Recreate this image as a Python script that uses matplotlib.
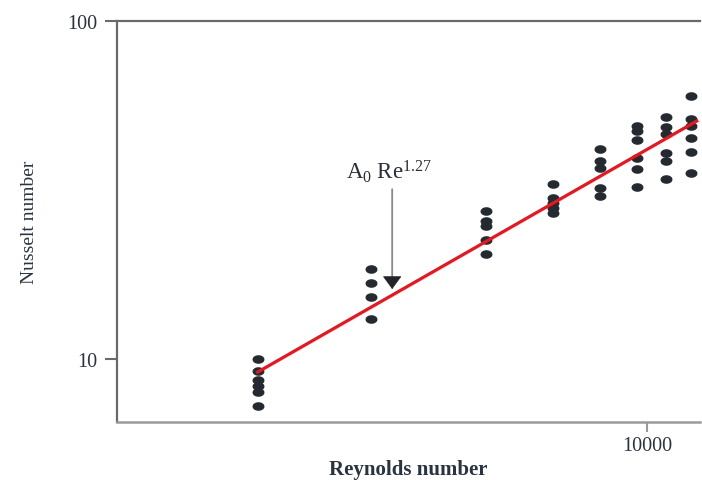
import numpy as np
import matplotlib
matplotlib.use("Agg")
import matplotlib.pyplot as plt
from matplotlib.path import Path

plt.rcParams['font.family'] = ['Liberation Serif', 'DejaVu Serif']
plt.rcParams['mathtext.fontset'] = 'custom'
plt.rcParams['mathtext.rm'] = 'Liberation Serif'
plt.rcParams['mathtext.it'] = 'Liberation Serif'

# Reynolds number of each group of measurements
re_groups = [3030, 4290, 6110, 7500, 8660, 9700, 10600, 11450]
# Nusselt numbers measured in each group
nu_groups = [
    [10.0, 9.21, 8.67, 8.32, 7.99, 7.26],
    [18.46, 16.79, 15.26, 13.13],
    [27.41, 25.6, 24.75, 22.49, 20.45],
    [32.95, 29.95, 28.94, 27.97, 27.04],
    [41.8, 38.5, 36.7, 32.05, 30.4],
    [48.9, 47.3, 44.45, 39.3, 36.5, 32.3],
    [52.0, 48.6, 46.3, 40.7, 38.5, 34.1],
    [60.0, 51.3, 48.9, 45.1, 41.0, 35.5],
]
# fitted correlation Nu = A0 * Re^1.27
exponent = 1.27
fit_re = [3030, 11650]
fit_nu_start = 9.15
A0 = fit_nu_start / fit_re[0] ** exponent

x_ticks = [10000]
x_tick_labels = ["10000"]
y_ticks = [10, 100]
y_tick_labels = ["10", "100"]

label_text = r"A$_0$ Re$^{1.27}$"
arrow_re = 4577
arrow_tip_nu = 16.1
arrow_head_top_nu = 17.5
arrow_tail_nu = 31.8
label_nu = 36.0

fig = plt.figure(figsize=(7.02, 4.81), dpi=100)
ax = fig.add_axes([117/702, 1-423/481, (700-117)/702, (423-22)/481])
ax.set_xscale('log')
ax.set_yscale('log')
ax.set_xlim(1968, 11766)
ax.set_ylim(6.51, 100)

# elliptical marker
t = np.linspace(0, 2*np.pi, 40)
ell = Path(np.column_stack([np.cos(t), 0.68*np.sin(t)]))

xs = []
ys = []
for r, vals in zip(re_groups, nu_groups):
    xs += [r]*len(vals)
    ys += vals
ax.plot(xs, ys, linestyle='none', marker=ell, markersize=7.6,
        color='#252a31', zorder=3)

fx = np.array(fit_re, dtype=float)
ax.plot(fx, A0 * fx ** exponent, color='#e8161e', linewidth=2.3, zorder=4)

# arrow shaft (gray) and head (dark)
ax.annotate("", xy=(arrow_re, arrow_head_top_nu), xytext=(arrow_re, arrow_tail_nu),
            arrowprops=dict(arrowstyle='-', color='#8a8a8a', lw=1.3,
                            shrinkA=0, shrinkB=0), zorder=5)
ax.annotate("", xy=(arrow_re, arrow_tip_nu), xytext=(arrow_re, arrow_head_top_nu),
            arrowprops=dict(arrowstyle='-|>,head_length=0.85,head_width=0.62',
                            color='#222428', lw=0.5,
                            shrinkA=0, shrinkB=0), zorder=5)
ax.text(arrow_re - 40, label_nu, label_text, ha='center', va='center',
        fontsize=16.5, color='#2a2f38')

ax.minorticks_off()
ax.set_xticks(x_ticks)
ax.set_xticklabels(x_tick_labels)
ax.set_yticks(y_ticks)
ax.set_yticklabels(y_tick_labels)
ax.tick_params(axis='x', which='both', direction='out', length=7, width=1.5,
               color='#9a9a9a', labelsize=14.5, labelcolor='#2a3340', pad=3)
ax.tick_params(axis='y', which='both', direction='out', length=9, width=1.5,
               color='#6a6a6a', labelsize=14.5, labelcolor='#2a3340', pad=5)
ax.minorticks_off()

ax.spines['right'].set_visible(False)
for s in ['left', 'top']:
    ax.spines[s].set_color('#6a6a6a')
    ax.spines[s].set_linewidth(1.6)
ax.spines['bottom'].set_color('#9a9a9a')
ax.spines['bottom'].set_linewidth(1.8)

ax.set_xlabel("Reynolds number", fontsize=15, fontweight='bold',
              color='#2a3340', labelpad=3)
ax.set_ylabel("Nusselt number", fontsize=14, color='#2a3340', labelpad=21)

fig.savefig("out.png", dpi=100)
